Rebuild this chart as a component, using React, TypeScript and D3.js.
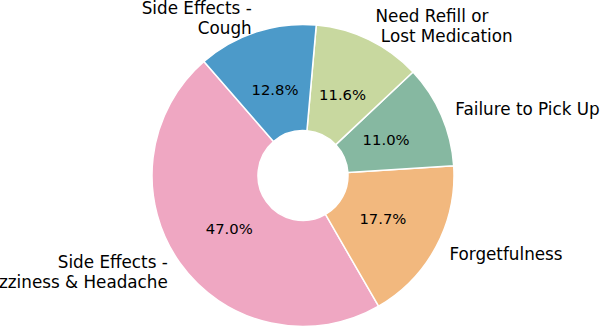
import React from 'react';
import * as d3 from 'd3';

const W = 600;
const H = 326;

// slices, counter-clockwise from the pink one
const reasons = [
  'Side Effects -\nDizziness & Headache',
  'Forgetfulness',
  'Failure to Pick Up',
  'Need Refill or\n Lost Medication',
  'Side Effects -\nCough',
];
const shares = [47.0, 17.7, 11.0, 11.6, 12.8];
const sliceColors = ['#efa7c2', '#f2b87e', '#86b8a1', '#c8d89f', '#4c9ac9'];

const cx = 303;
const cy = 175.5;
const R = 151;
const hole = 45;
const start = ((90 - 131) * Math.PI) / 180;

export default function App() {
  const arcs = d3
    .pie<number>()
    .sort(null)
    .value((d) => d)
    .startAngle(start)
    .endAngle(start - 2 * Math.PI)(shares);
  const arcGen = d3.arc<d3.PieArcDatum<number>>().innerRadius(hole).outerRadius(R);
  const total = d3.sum(shares);

  return (
    <svg
      width={W}
      height={H}
      style={{ position: 'absolute', left: 0, top: 0, background: '#fff' }}
      fontFamily="DejaVu Sans, sans-serif"
    >
      <g transform={`translate(${cx},${cy})`}>
        {arcs.map((a, i) => (
          <path key={i} d={arcGen(a) || ''} fill={sliceColors[i]} stroke="#fff" strokeWidth={1.5} strokeLinejoin="round" />
        ))}
        {arcs.map((a, i) => {
          const mid = (a.startAngle + a.endAngle) / 2;
          const px = Math.sin(mid) * R * 0.6;
          const py = -Math.cos(mid) * R * 0.6;
          const lx = Math.sin(mid) * R * 1.1;
          const ly = -Math.cos(mid) * R * 1.1;
          const lines = reasons[i].split('\n');
          const lh = 20;
          return (
            <g key={'t' + i}>
              <text x={px} y={py} textAnchor="middle" dominantBaseline="central" fontSize={14.8} fill="#000">
                {((shares[i] / total) * 100).toFixed(1) + '%'}
              </text>
              <text
                x={lx}
                y={ly}
                textAnchor={lx > 0 ? 'start' : 'end'}
                fontSize={16.8}
                fill="#000"
                style={{ whiteSpace: 'pre' }}
              >
                {lines.map((ln, j) => (
                  <tspan key={j} x={lx} y={ly + (j - (lines.length - 1) / 2) * lh} dominantBaseline="central">
                    {ln}
                  </tspan>
                ))}
              </text>
            </g>
          );
        })}
      </g>
    </svg>
  );
}
